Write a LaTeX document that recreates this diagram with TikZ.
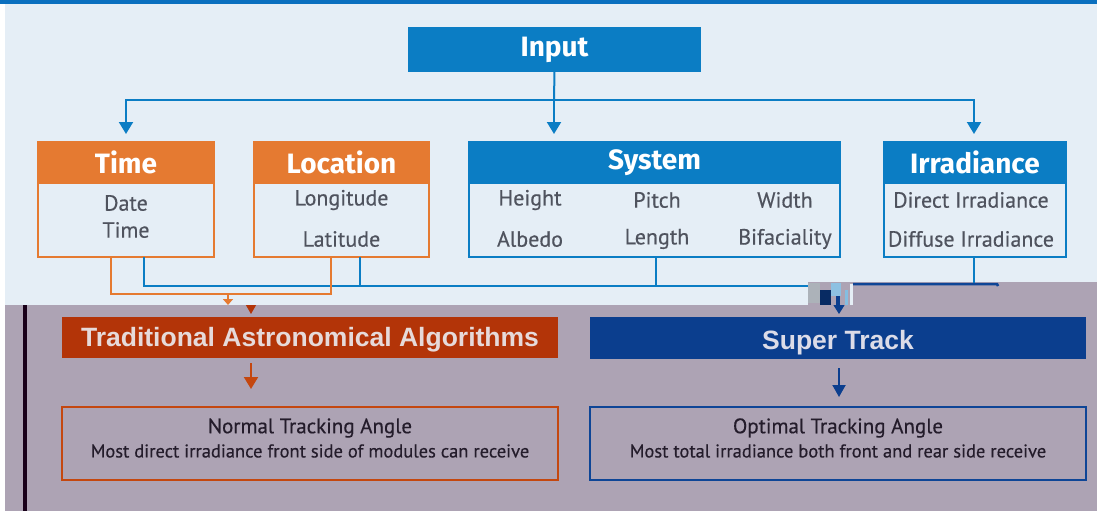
\documentclass[tikz,border=0pt]{standalone}
\usepackage{fontspec}
\setmainfont{PT Sans}
\newfontfamily\medfont{PT Sans}[FakeBold=0.4]
\newfontfamily\hfont{Fira Sans}
\newfontfamily\afont{Liberation Sans}
\usetikzlibrary{arrows.meta}
\definecolor{topblue}{HTML}{0A6FBF}
\definecolor{inblue}{HTML}{0B7DC4}
\definecolor{lightbg}{HTML}{E5EEF6}
\definecolor{greybg}{HTML}{ADA3B4}
\definecolor{orng}{HTML}{E57A31}
\definecolor{rust}{HTML}{B33408}
\definecolor{rustline}{HTML}{C4470F}
\definecolor{navy}{HTML}{0B3E8E}
\definecolor{navyline}{HTML}{0E4596}
\definecolor{txtgray}{HTML}{4F535E}
\definecolor{txtdark}{HTML}{241C2B}
\definecolor{lighttxt}{HTML}{E6DADA}
\definecolor{supertxt}{HTML}{DCDCE8}
\begin{document}
\begin{tikzpicture}[x=1pt,y=-1pt,
  hdr/.style={draw=#1,fill=#1,line width=2pt,inner sep=0pt,outer sep=0pt,text=white,font=\hfont\bfseries\fontsize{28}{30}\selectfont},
  bodybox/.style={draw=#1,line width=2pt,inner sep=0pt,outer sep=0pt},
  bt/.style={inner sep=0pt,text=txtgray,font=\medfont\fontsize{22}{24}\selectfont},
  bigbox/.style={fill=#1,inner sep=0pt,outer sep=0pt},
  bigtxt/.style={inner sep=0pt,font=\afont\bfseries\fontsize{26.5}{28}\selectfont},
  resbox/.style={draw=#1,line width=2pt,inner sep=0pt,outer sep=0pt},
  rt/.style={inner sep=0pt,text=txtdark},
  bline/.style={draw=inblue,line width=2pt},
  oline/.style={draw=orng,line width=2pt},
  barrow/.style={bline,-{Triangle[width=14pt,length=12pt]}}
]
\useasboundingbox (0,0) rectangle (1097,511);
% backgrounds
\fill[white] (0,0) rectangle (1097,511);
\fill[lightbg] (5,4) rectangle (1097,305);
\fill[greybg] (5,305) -- (808,305) -- (808,282) -- (1097,282) -- (1097,511) -- (5,511) -- cycle;
\fill[topblue] (0,0) rectangle (1097,4);
\fill[black!80!violet] (23,305) rectangle (27,511);

% Input
\node[hdr=inblue,minimum width=291,minimum height=43] (input) at (554.5,49.5) {Input};
\coordinate (bus) at (554,100);

% Time
\node[bodybox=orng,minimum width=176,minimum height=74] (timeb) at (126,220) {};
\node[hdr=orng,minimum width=176,minimum height=41] (timeh) at (126,162.5) {Time};
\node[bt] (t1) at (126,203) {Date};
\node[bt] (t2) at (126,230) {Time};

% Location
\node[bodybox=orng,minimum width=175,minimum height=74] (locb) at (341.5,220) {};
\node[hdr=orng,minimum width=175,minimum height=41] (loch) at (341.5,162.5) {Location};
\node[bt] (l1) at (341.5,200) {Longitude};
\node[bt] (l2) at (341.5,239) {Latitude};

% System
\node[bodybox=inblue,minimum width=371,minimum height=74] (sysb) at (654.5,220) {};
\node[hdr=inblue,minimum width=371,minimum height=41] (sysh) at (654.5,162.5) {System};
\node[bt] (s1) at (530,200) {Height};
\node[bt] (s2) at (657,200) {Pitch};
\node[bt] (s3) at (785,200) {Width};
\node[bt] (s4) at (530,239) {Albedo};
\node[bt] (s5) at (657,239) {Length};
\node[bt] (s6) at (785,239) {Bifaciality};

% Irradiance
\node[bodybox=inblue,minimum width=182,minimum height=74] (irrb) at (975,220) {};
\node[hdr=inblue,minimum width=182,minimum height=41] (irrh) at (975,162.5) {Irradiance};
\node[bt] (i1) at (971,200) {Direct Irradiance};
\node[bt] (i2) at (971,239) {Diffuse Irradiance};

% Input connectors
\coordinate (ta0) at (126,142);
\coordinate (sa0) at (554,142);
\coordinate (ia0) at (974,142);
\draw[bline] (input.south) -- (bus);
\draw[barrow,shorten >=8pt] (bus) -- (sa0);
\draw[barrow,shorten >=8pt] (bus) -| (ta0);
\draw[barrow,shorten >=8pt] (bus) -| (ia0);

% lower connectors (blue)
\coordinate (tb) at (144,257);
\coordinate (lb) at (360,257);
\coordinate (sb) at (656,257);
\coordinate (ib) at (974,257);
\coordinate (bend) at (808,286);
\draw[bline] (tb) |- (bend);
\draw[bline] (lb) -- (lb |- bend);
\draw[bline] (sb) -- (sb |- bend);
\draw[bline] (ib) -- (974,284);
\draw[draw=navyline,line width=2.5pt] (853,284) -- (997,284) -- (998,286);

% artifact
\fill[black!25!lightbg] (808,283) rectangle (820,303);
\fill[navy!70!black] (820,290) rectangle (831,305);
\fill[inblue!40!lightbg] (831,283) rectangle (841,296);
\fill[navy] (836,296) rectangle (840,305);
\fill[inblue!50!white] (845,290) rectangle (848,305);
\fill[lightbg] (850,284) rectangle (853,305);

% lower connectors (orange)
\coordinate (ta) at (111,257);
\coordinate (la) at (331,257);
\coordinate (oj) at (228,294);
\coordinate (oe) at (228,305);
\draw[oline] (ta) |- (la |- oj) -- (la);
\draw[oline,-{Triangle[width=10pt,length=6pt]}] (oj) -- (oe);

% Traditional
\node[bigbox=rust,minimum width=496,minimum height=41] (trad) at (310,337.5) {};
\node[bigtxt,text=lighttxt] (tradt) at (310,340) {Traditional Astronomical Algorithms};
\coordinate (rtop) at (251,305);
\coordinate (rtip) at (251,314);
\draw[draw=rust,line width=1pt,-{Triangle[width=10pt,length=9pt]}] (rtop) -- (rtip);

% Super Track
\node[bigbox=navy,minimum width=496,minimum height=42] (super) at (838,338) {};
\node[bigtxt,text=supertxt] (supert) at (838,343) {Super Track};
\coordinate (ntop) at (839,304);
\coordinate (ntip) at (839,314);
\draw[draw=navy,line width=1pt,-{Triangle[width=11pt,length=9pt]}] (ntop) -- (ntip);

% result boxes
\node[resbox=rustline,minimum width=496,minimum height=73] (normal) at (310,443.5) {};
\node[rt,font=\medfont\fontsize{21}{23}\selectfont] (nt1) at (310,428) {Normal Tracking Angle};
\node[rt,font=\medfont\fontsize{18.5}{20}\selectfont] (nt2) at (310,451) {Most direct irradiance front side of modules can receive};
\node[resbox=navyline,minimum width=496,minimum height=73] (optimal) at (838,443.5) {};
\node[rt,font=\medfont\fontsize{21}{23}\selectfont] (ot1) at (838,428) {Optimal Tracking Angle};
\node[rt,font=\medfont\fontsize{18.5}{20}\selectfont] (ot2) at (838,451) {Most total irradiance both front and rear side receive};

\coordinate (r1) at (251,358);
\coordinate (r2) at (251,407);
\coordinate (n1) at (839,359);
\coordinate (n2) at (839,407);
\draw[draw=rustline,line width=2pt,-{Triangle[width=14pt,length=12pt]},shorten <=5pt,shorten >=18pt] (r1) -- (r2);
\draw[draw=navy,line width=2pt,-{Triangle[width=13pt,length=12pt]},shorten <=9pt,shorten >=10pt] (n1) -- (n2);
\end{tikzpicture}
\end{document}
